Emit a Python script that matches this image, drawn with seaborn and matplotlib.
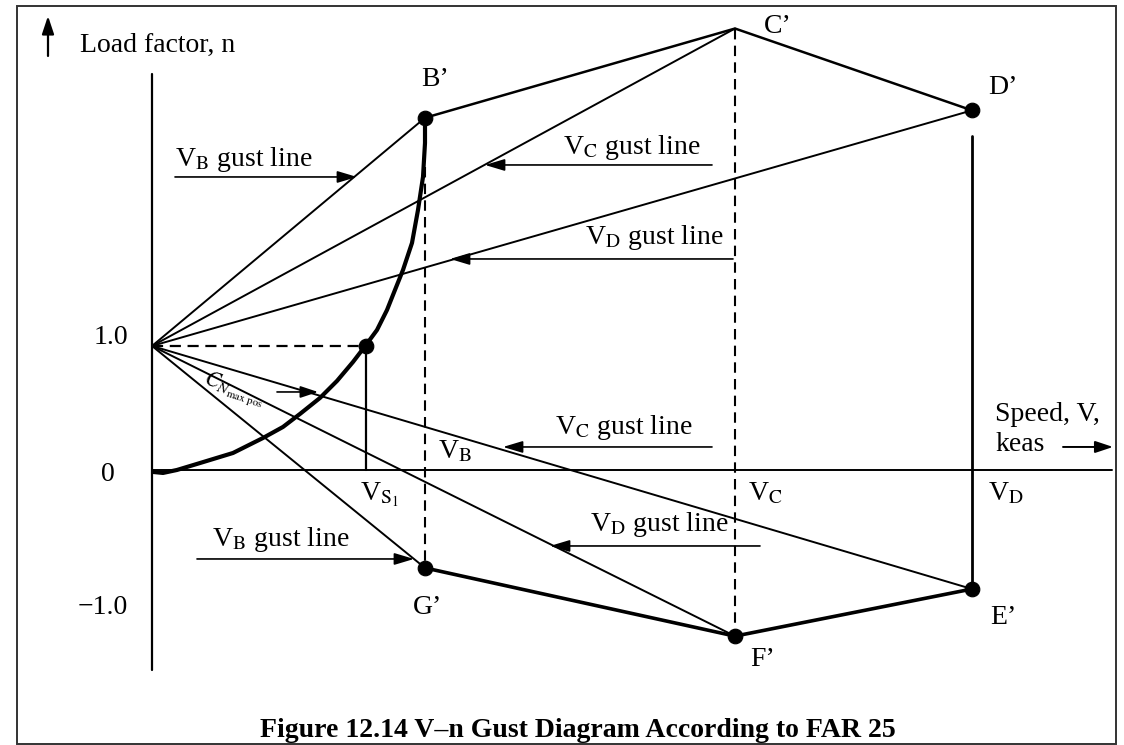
import matplotlib
matplotlib.use("Agg")
import matplotlib.pyplot as plt
from matplotlib.patches import Rectangle
import pandas as pd
import seaborn as sns

# Characteristic speeds (keas, arbitrary scale) and gust load factors
V_S1 = 107.0
V_B = 136.5
V_C = 291.5
V_D = 410.0

n_B_pos = 2.84   # B'
n_C_pos = 3.56   # C'
n_D_pos = 2.90   # D'
n_E_neg = -0.96  # E'
n_F_neg = -1.34  # F'
n_G_neg = -0.79  # G'

# Stall (C_N max pos) curve
curve_V = [0.5, 5.5, 12.5, 24.0, 40.5, 55.5, 65.5, 74.0, 84.0, 92.5, 100.5, 107.0,
           112.5, 117.5, 121.5, 125.5, 130.0, 133.0, 135.5, 136.5, 136.5]
curve_n = [-0.016, -0.024, 0.0, 0.056, 0.137, 0.258, 0.347, 0.452, 0.581, 0.718, 0.871, 1.008,
           1.129, 1.290, 1.452, 1.613, 1.831, 2.097, 2.363, 2.637, 2.84]

# Where the vertical guide lines start
V_B_dash_top = 2.44
V_D_line_top = 2.69
n_axis_top = 3.19
n_axis_bottom = -1.61
V_axis_end = 480.0

point_names = ["B’", "C’", "D’", "E’", "F’", "G’"]

# figure setup
sns.set_theme(style="white")
plt.rcParams["font.family"] = ["Liberation Serif", "DejaVu Serif"]
plt.rcParams["mathtext.fontset"] = "stix"

fig = plt.figure(figsize=(11.24, 7.45), dpi=100)
ax = fig.add_axes([0, 0, 1, 1])
ax.set_xlim(-76, 486)
ax.set_ylim(-2.218, 3.790)
ax.axis("off")


def P(px, py):
    # pixel position of the reference -> data coordinates (for labels only)
    return (px - 152) / 2.0, (470 - py) / 124.0


K = "black"

# axes lines
sns.lineplot(x=[0, 0], y=[n_axis_bottom, n_axis_top], ax=ax, color=K, lw=1.6,
             estimator=None, sort=False)
sns.lineplot(x=[0, V_axis_end], y=[0, 0], ax=ax, color=K, lw=1.4,
             estimator=None, sort=False)

# gust lines from n = 1 at V = 0
gust = pd.DataFrame({
    "V": [0, V_B, 0, V_C, 0, V_D, 0, V_B, 0, V_C, 0, V_D],
    "n": [1, n_B_pos, 1, n_C_pos, 1, n_D_pos, 1, n_G_neg, 1, n_F_neg, 1, n_E_neg],
    "line": ["B+", "B+", "C+", "C+", "D+", "D+", "B-", "B-", "C-", "C-", "D-", "D-"],
})
sns.lineplot(data=gust, x="V", y="n", units="line", estimator=None, sort=False,
             ax=ax, color=K, lw=1.4, legend=False)

# envelope
sns.lineplot(x=[V_B, V_C, V_D], y=[n_B_pos, n_C_pos, n_D_pos], ax=ax, color=K,
             lw=1.8, estimator=None, sort=False)
sns.lineplot(x=[V_B, V_C, V_D], y=[n_G_neg, n_F_neg, n_E_neg], ax=ax, color=K,
             lw=2.6, estimator=None, sort=False)

# stall curve
line = sns.lineplot(x=curve_V, y=curve_n, ax=ax, color=K, lw=3.0, estimator=None, sort=False)
ax.lines[-1].set_solid_joinstyle("round")

# vertical / horizontal guide lines
ax.plot([V_B, V_B], [V_B_dash_top, n_G_neg], color=K, lw=1.5, ls=(0, (5, 3)))
ax.plot([V_C, V_C], [n_C_pos, n_F_neg], color=K, lw=1.5, ls=(0, (5, 3)))
ax.plot([0, V_S1], [1, 1], color=K, lw=1.6, ls=(0, (5, 3)))
ax.plot([V_S1, V_S1], [1, 0], color=K, lw=1.6)
ax.plot([V_D, V_D], [V_D_line_top, n_E_neg], color=K, lw=2.0)

# corner points
pts = pd.DataFrame({
    "V": [V_B, V_D, V_D, V_C, V_B, V_S1],
    "n": [n_B_pos, n_D_pos, n_E_neg, n_F_neg, n_G_neg, 1.0],
})
sns.scatterplot(data=pts, x="V", y="n", ax=ax, color=K, s=110,
                edgecolor=K, zorder=5)

fs = 20
tk = dict(color=K, fontsize=fs)

# axis labels and ticks
ax.text(*P(80, 45), "Load factor, n", ha="left", va="center", **tk)
ax.annotate("", xy=P(48, 16), xytext=P(48, 56),
            arrowprops=dict(arrowstyle="-|>,head_length=0.9,head_width=0.3",
                            color=K, lw=1.6, shrinkA=0, shrinkB=0),
            annotation_clip=False)
ax.text(*P(128, 338), "1.0", ha="right", va="center", **tk)
ax.text(*P(108, 475), "0", ha="center", va="center", **tk)
ax.text(*P(128, 608), "\u22121.0", ha="right", va="center", **tk)
ax.text(*P(995, 415), "Speed, V,", ha="left", va="center", **tk)
ax.text(*P(995, 445), "keas", ha="left", va="center", **tk)
ax.annotate("", xy=P(1113, 447), xytext=P(1063, 447),
            arrowprops=dict(arrowstyle="-|>,head_length=0.9,head_width=0.3",
                            color=K, lw=1.4, shrinkA=0, shrinkB=0))

# point names
name_pos = [(435, 80), (778, 27), (1003, 88), (1003, 618), (763, 660), (428, 608)]
for name, (px, py) in zip(point_names, name_pos):
    ax.text(*P(px, py), name, ha="center", va="center", **tk)

# speed labels
ax.text(*P(438, 452), r"V$_{\rm B}$", ha="left", va="center", **tk)
ax.text(*P(360, 495), r"V$_{\rm S_1}$", ha="left", va="center", **tk)
ax.text(*P(748, 494), r"V$_{\rm C}$", ha="left", va="center", **tk)
ax.text(*P(988, 494), r"V$_{\rm D}$", ha="left", va="center", **tk)

# gust line call-outs: (label, text pos, arrow tail, arrow head)
callouts = [
    (r"V$_{\rm B}$ gust line", (175, 160), (175, 177), (357, 177)),
    (r"V$_{\rm C}$ gust line", (563, 148), (712, 165), (485, 165)),
    (r"V$_{\rm D}$ gust line", (585, 238), (733, 259), (450, 259)),
    (r"V$_{\rm C}$ gust line", (555, 428), (712, 447), (503, 447)),
    (r"V$_{\rm D}$ gust line", (590, 525), (760, 546), (550, 546)),
    (r"V$_{\rm B}$ gust line", (212, 540), (197, 559), (414, 559)),
]
for label, tpos, tail, head in callouts:
    ax.text(*P(*tpos), label, ha="left", va="center", **tk)
    ax.annotate("", xy=P(*head), xytext=P(*tail),
                arrowprops=dict(arrowstyle="-|>,head_length=1.0,head_width=0.3",
                                color=K, lw=1.2, shrinkA=0, shrinkB=0))

# C_N max pos label
ax.text(*P(200, 390), r"$C_{N_{\rm max\ pos}}$", ha="left", va="center",
        rotation=-18, color=K, fontsize=16)
ax.annotate("", xy=P(318, 392), xytext=P(277, 392),
            arrowprops=dict(arrowstyle="-|>,head_length=0.9,head_width=0.3",
                            color=K, lw=1.2, shrinkA=0, shrinkB=0))

# caption
ax.text(*P(578, 731), "Figure 12.14 V\u2013n Gust Diagram According to FAR 25",
        ha="center", va="center", fontsize=20, fontweight="bold", color=K)

# frame around the figure
fig.add_artist(Rectangle((17 / 1124, 1 - 744 / 745), 1099 / 1124, 738 / 745,
                         transform=fig.transFigure, fill=False,
                         edgecolor="#333333", lw=1.4))

fig.savefig("out.png", dpi=100)
